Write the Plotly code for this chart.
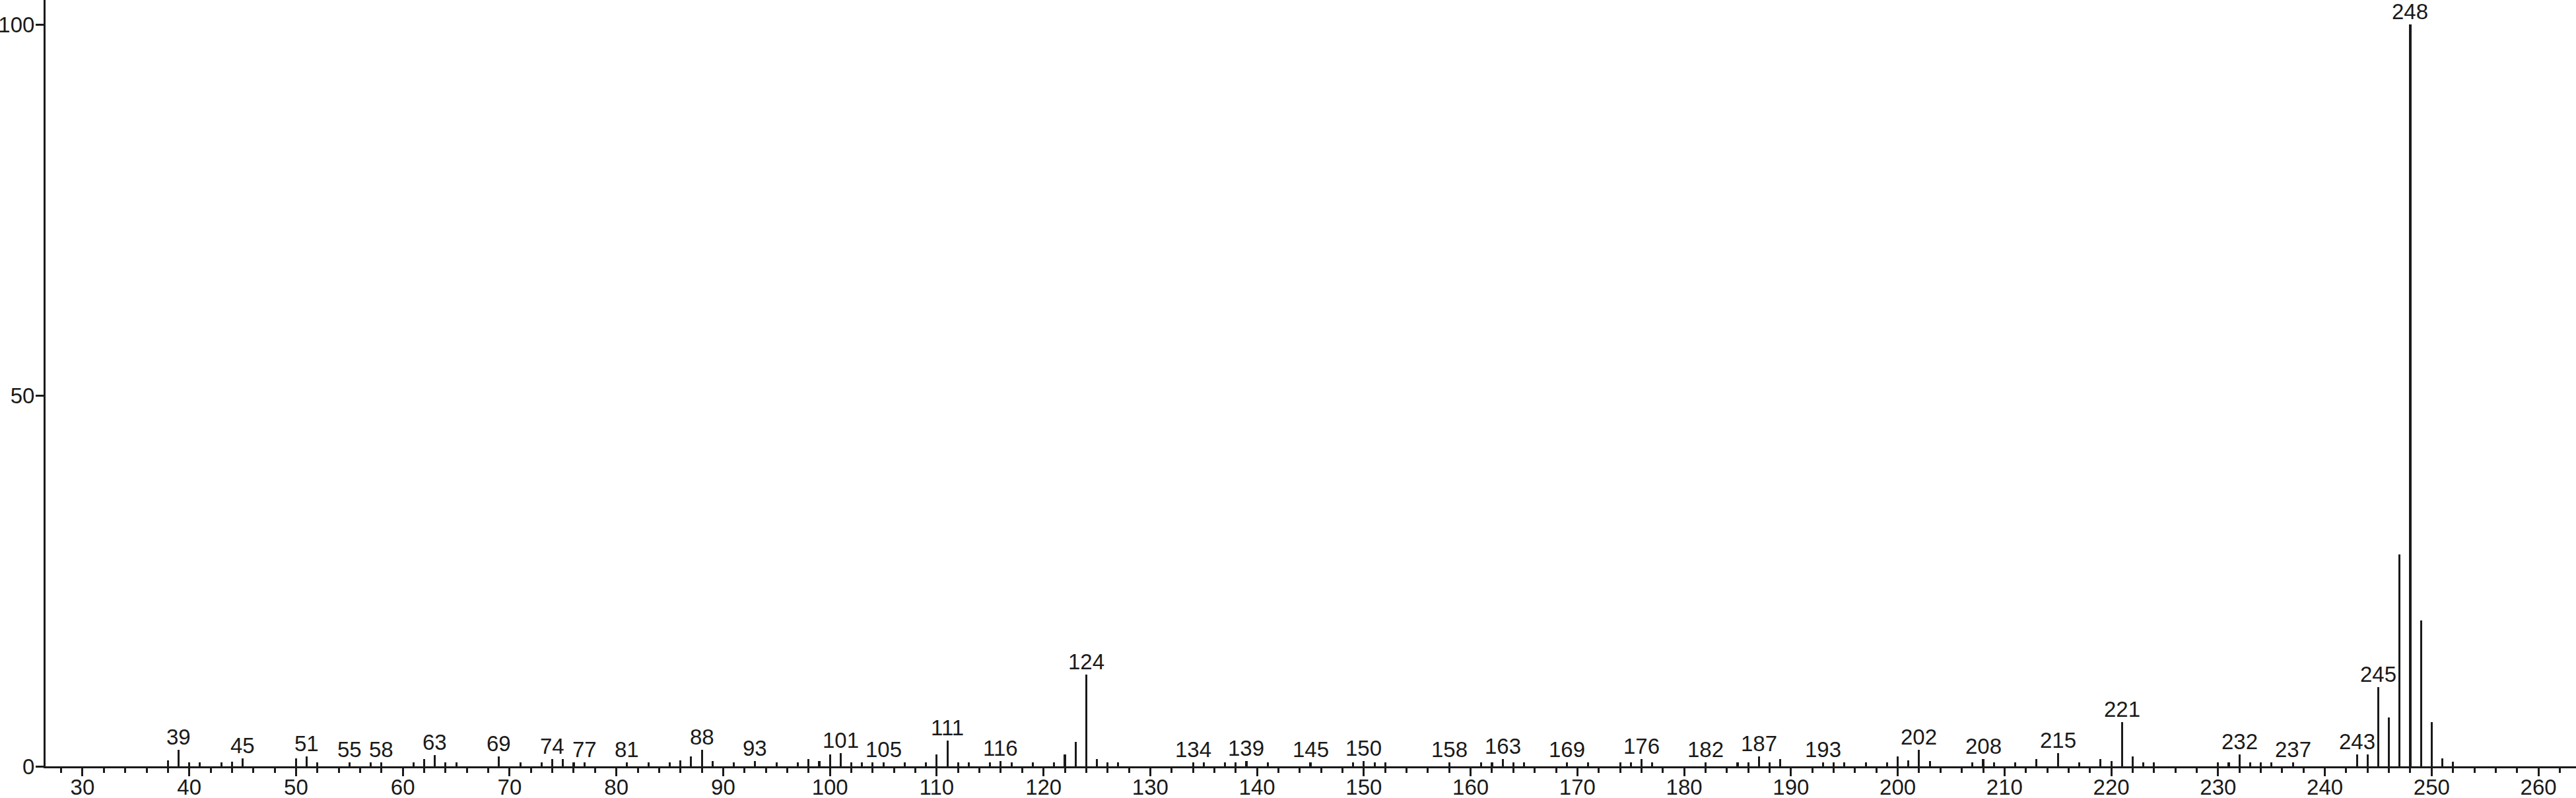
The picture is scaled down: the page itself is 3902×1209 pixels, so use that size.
import plotly.graph_objects as go

# m/z values and relative intensities (%)
mz = [38, 39, 40, 41, 43, 44, 45, 50, 51, 52, 55, 57, 58, 61, 62, 63, 64, 65,
      69, 71, 73, 74, 75, 76, 77, 81, 83, 85, 86, 87, 88, 89, 91, 93, 95, 97,
      98, 99, 100, 101, 102, 103, 104, 105, 107, 109, 110, 111, 112, 113, 115,
      116, 117, 119, 121, 122, 123, 124, 125, 126, 127, 134, 135, 137, 138,
      139, 141, 145, 149, 150, 151, 152, 158, 161, 162, 163, 164, 165, 169,
      171, 174, 175, 176, 177, 182, 185, 186, 187, 188, 189, 193, 194, 195,
      197, 199, 200, 201, 202, 203, 207, 208, 209, 211, 213, 215, 217, 219,
      220, 221, 222, 223, 224, 230, 231, 232, 233, 234, 235, 237, 243, 244,
      245, 246, 247, 248, 249, 250, 251, 252]
intensity = [0.8, 2.2, 0.5, 0.5, 0.5, 0.6, 1.1, 1.1, 1.3, 0.5, 0.5, 0.5, 0.5, 0.5, 1.0, 1.5, 0.5, 0.5,
             1.3, 0.5, 0.5, 1.0, 1.0, 0.5, 0.5, 0.5, 0.5, 0.5, 0.8, 1.3, 2.2, 0.7, 0.5, 0.7, 0.5, 0.5,
             1.0, 0.7, 1.6, 1.8, 0.5, 0.5, 0.5, 0.5, 0.5, 0.5, 1.6, 3.5, 0.5, 0.5, 0.5,
             0.7, 0.5, 0.5, 0.5, 1.6, 3.3, 12.4, 1.0, 0.5, 0.5, 0.5, 0.5, 0.5, 0.5,
             0.7, 0.5, 0.5, 0.5, 0.7, 0.5, 0.5, 0.5, 0.5, 0.5, 1.0, 0.5, 0.5, 0.5,
             0.5, 0.5, 0.5, 1.0, 0.5, 0.5, 0.5, 0.5, 1.3, 0.5, 1.0, 0.5, 0.5, 0.5,
             0.5, 0.5, 1.3, 0.8, 2.2, 0.7, 0.5, 1.0, 0.5, 0.5, 1.0, 1.8, 0.5, 1.0,
             0.7, 6.0, 1.3, 0.5, 0.5, 0.5, 0.5, 1.6, 0.5, 0.5, 0.5, 0.5, 1.6, 1.6,
             10.7, 6.6, 28.6, 100.0, 19.7, 6.0, 1.1, 0.6]

labeled = [39, 45, 51, 55, 58, 63, 69, 74, 77, 81, 88, 93, 101, 105, 111, 116,
           124, 134, 139, 145, 150, 158, 163, 169, 176, 182, 187, 193, 202, 208,
           215, 221, 232, 237, 243, 245, 248]

x_ticks = [30, 40, 50, 60, 70, 80, 90, 100, 110, 120, 130, 140, 150, 160, 170,
           180, 190, 200, 210, 220, 230, 240, 250, 260]
y_ticks = [0, 50, 100]

FONT = "Liberation Sans Narrow, Arial Narrow, Liberation Sans, Arial, sans-serif"
INK = "#1a1a1a"
FS = 33

fig = go.Figure()
fig.add_trace(go.Bar(x=mz, y=intensity, width=0.19,
                     marker=dict(color=INK, line=dict(width=0)),
                     hoverinfo="x+y"))

lookup = dict(zip(mz, intensity))
for m in labeled:
    fig.add_annotation(x=m, y=lookup.get(m, 0.5), text=str(m), showarrow=False,
                       xanchor="center", yanchor="bottom", yshift=-1,
                       font=dict(family=FONT, size=FS, color=INK))

fig.update_layout(
    width=3902, height=1209,
    margin=dict(l=69, r=0, t=0, b=48, autoexpand=False),
    paper_bgcolor="white", plot_bgcolor="white",
    showlegend=False, bargap=0,
    font=dict(family=FONT, size=FS, color=INK),
)
fig.update_xaxes(range=[26.54, 263.52], tickvals=x_ticks, ticks="outside",
                 ticklen=12, tickwidth=3, tickcolor=INK, showline=True,
                 linewidth=3, linecolor=INK, showgrid=False, zeroline=False,
                 automargin=False, ticklabelstandoff=-12,
                 tickfont=dict(family=FONT, size=FS, color=INK),
                 minor=dict(dtick=2, tick0=0, ticks="outside", ticklen=7,
                            tickwidth=3, tickcolor=INK, showgrid=False))
fig.update_yaxes(range=[0, 103.3], tickvals=y_ticks, ticks="outside",
                 ticklen=12, tickwidth=3, tickcolor=INK, showline=True,
                 linewidth=3, linecolor=INK, showgrid=False, zeroline=False,
                 automargin=False, ticklabelstandoff=-5,
                 tickfont=dict(family=FONT, size=FS, color=INK))

fig.write_html("out.html",
               config={"displayModeBar": False},
               post_script="document.body.style.margin='0px';"
                           "document.body.style.overflow='hidden';")
